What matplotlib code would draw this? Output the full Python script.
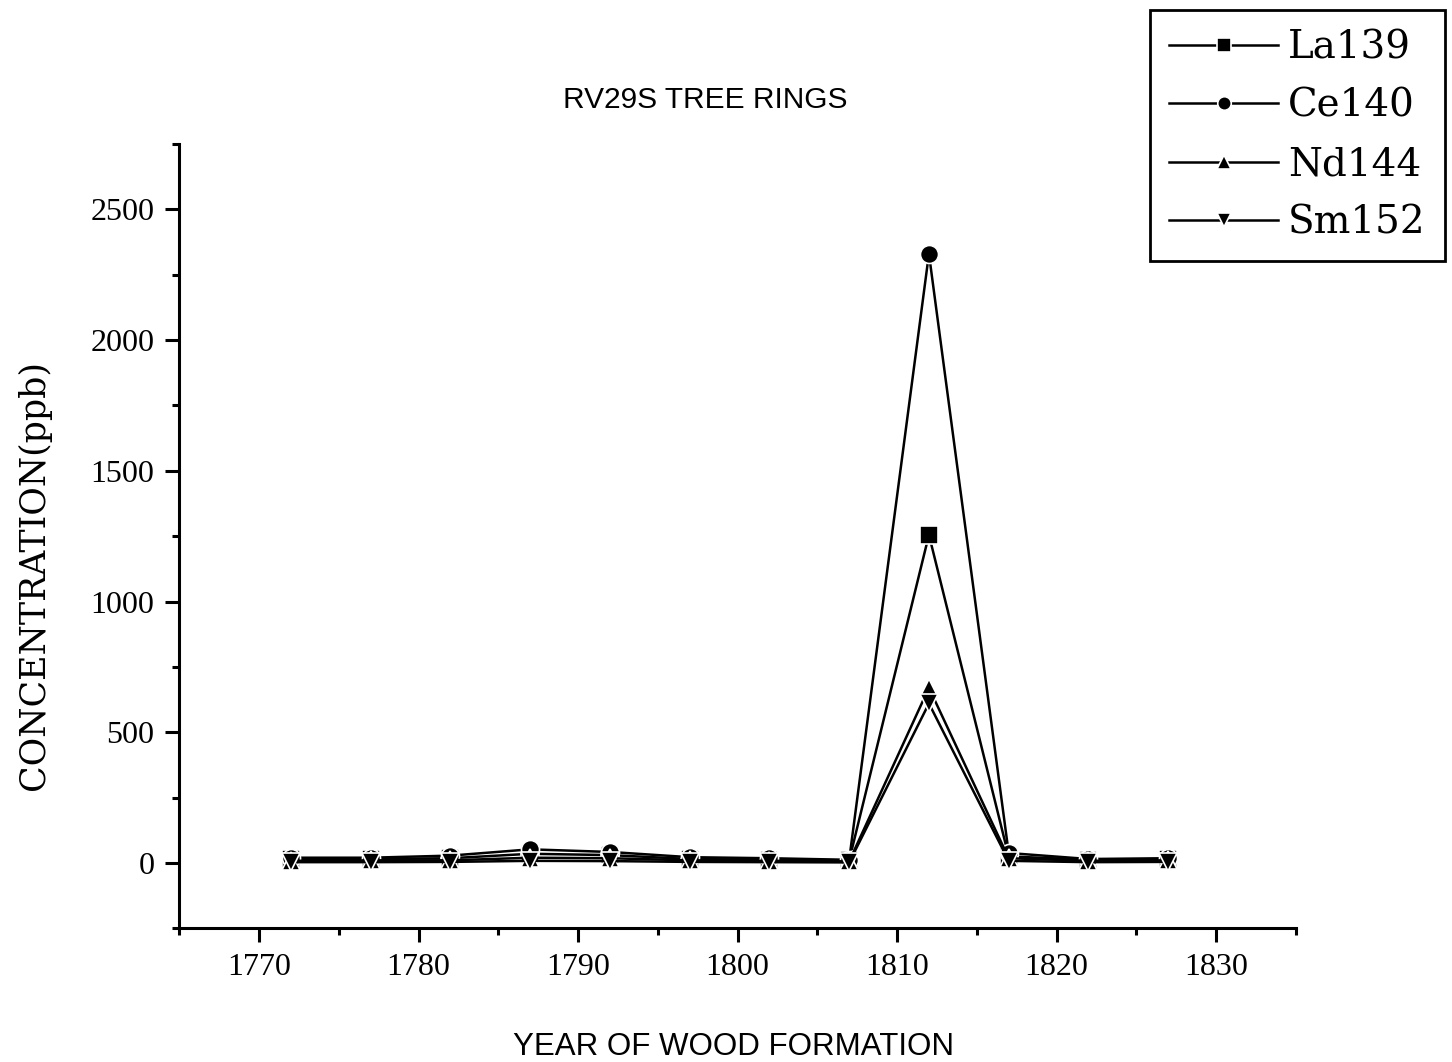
import matplotlib
matplotlib.use("Agg")
import matplotlib.pyplot as plt
from matplotlib.ticker import MultipleLocator

# Jahre und Konzentrationen (ppb)
ani = [1772, 1777, 1782, 1787, 1792, 1797, 1802, 1807, 1812, 1817, 1822, 1827]
la139 = [15, 15, 18, 35, 30, 15, 12, 10, 1255, 25, 12, 15]
ce140 = [20, 20, 28, 52, 42, 22, 18, 12, 2330, 38, 15, 18]
nd144 = [8, 10, 10, 20, 18, 10, 8, 6, 670, 18, 8, 10]
sm152 = [3, 3, 4, 8, 7, 4, 3, 2, 610, 8, 3, 4]

serii = [("La139", la139, "s"), ("Ce140", ce140, "o"),
         ("Nd144", nd144, "^"), ("Sm152", sm152, "v")]

fig = plt.figure(figsize=(14.52, 10.62), dpi=100)
ax = fig.add_axes([0.1235, 0.1259, 0.8924 - 0.1235, 0.8644 - 0.1259])

for nume, val, m in serii:
    ax.plot(ani, val, color="black", linewidth=1.8, marker=m, markersize=13,
            markerfacecolor="black", markeredgecolor="white", markeredgewidth=1.2,
            label=nume)

ax.set_xlim(1765, 1835)
ax.set_ylim(-250, 2750)
ax.xaxis.set_minor_locator(MultipleLocator(5))
ax.yaxis.set_minor_locator(MultipleLocator(250))
ax.set_yticks([0, 500, 1000, 1500, 2000, 2500])
ax.set_xticks(range(1770, 1831, 10))

for s in ["top", "right"]:
    ax.spines[s].set_visible(False)
for s in ["left", "bottom"]:
    ax.spines[s].set_linewidth(2.2)

ax.tick_params(which="major", length=10, width=2.2, direction="out")
ax.tick_params(which="minor", length=5, width=2.2, direction="out")
ax.tick_params(labelsize=23, pad=8)
for t in ax.get_xticklabels() + ax.get_yticklabels():
    t.set_fontfamily("Liberation Serif")

ax.set_ylabel("CONCENTRATION(ppb)", fontsize=25, fontfamily="DejaVu Serif")
ax.yaxis.set_label_coords(-0.115, 0.45)

fig.text(0.4855, 0.906, "RV29S TREE RINGS", fontsize=21.5, fontfamily="Liberation Sans",
         ha="center", va="center")
fig.text(0.505, 0.014, "YEAR OF WOOD FORMATION", fontsize=22.5, fontfamily="Liberation Sans",
         ha="center", va="center")

leg = fig.legend(loc="upper right", bbox_to_anchor=(1445 / 1452, 1 - 10 / 1062),
                 numpoints=1, markerscale=0.75, handlelength=2.8, fancybox=False,
                 edgecolor="black", framealpha=1, borderpad=0.5, labelspacing=0.55,
                 handletextpad=0.25, borderaxespad=0,
                 prop={"family": "DejaVu Serif", "size": 28})
leg.get_frame().set_linewidth(2)

fig.savefig("out.png", dpi=100)
